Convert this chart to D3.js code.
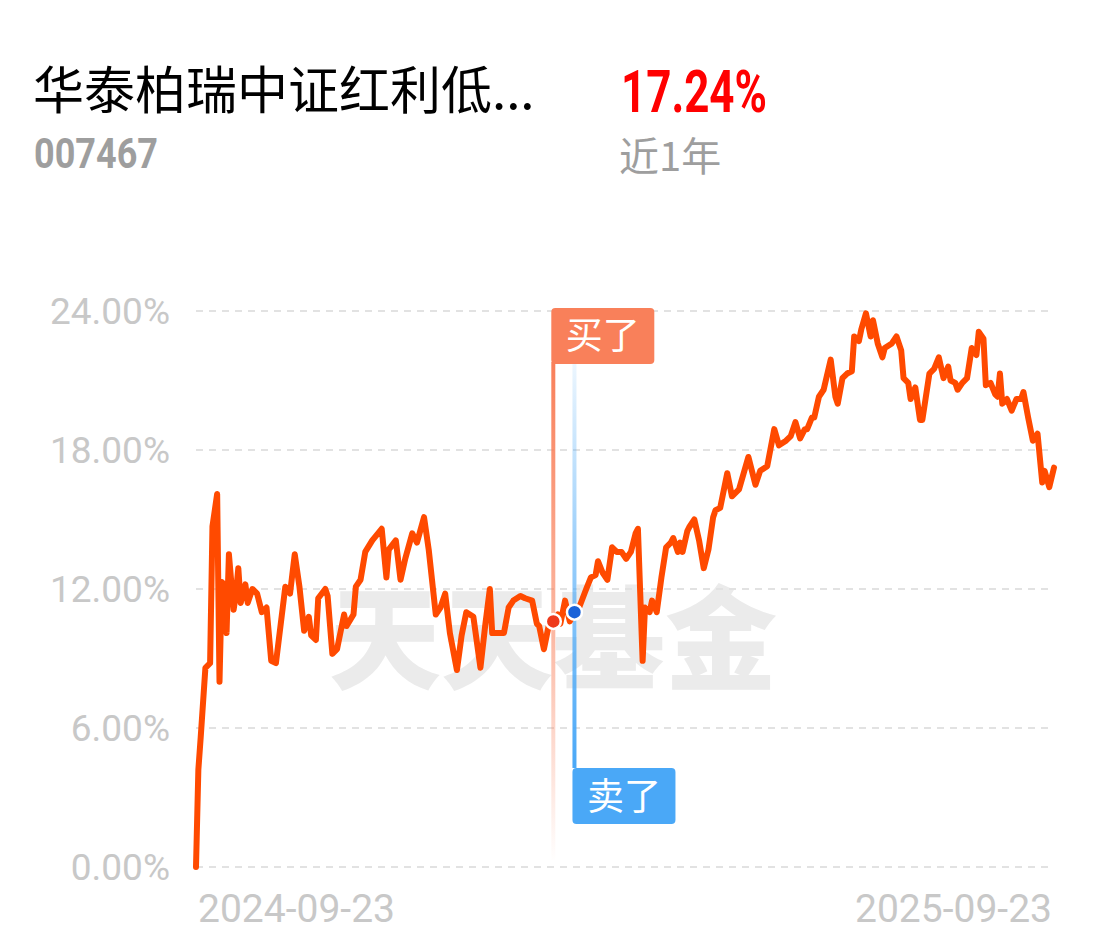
<!DOCTYPE html>
<html>
<head>
<meta charset="utf-8">
<script src="https://cdn.jsdelivr.net/npm/d3@7"></script>
<style>
  html, body { margin: 0; padding: 0; background: #ffffff; }
  svg { display: block; }
</style>
</head>
<body>
<svg id="chart" width="1102" height="951"></svg>
<script>
// ---------- data ----------
const fundName = "华泰柏瑞中证红利低...";
const fundCode = "007467";
const periodReturn = "17.24%";
const periodLabel = "近1年";
const startDate = "2024-09-23";
const xTickLabels = ["2024-09-23", "2025-09-23"];
const yTicks = [0, 6, 12, 18, 24];
const watermark = "天天基金";

// calendar days after 2024-09-23
const dayOffsets = [
  0,1,2,4,6,7,9,10,11,12,
  13,14,16,17,18,19,21,22,24,26,
  28,30,32,34,38,40,42,44,46,48,
  49,51,52,55,56,58,60,63,64,67,
  68,70,72,75,79,81,82,85,87,89,
  92,94,97,99,102,104,106,108,111,113,
  115,118,121,123,125,126,129,131,133,135,
  138,140,143,145,146,148,150,152,154,155,
  157,159,161,163,166,168,170,171,173,175,
  177,179,181,183,185,187,188,190,191,193,
  194,196,198,200,202,203,205,206,207,209,
  210,212,214,216,218,220,221,223,226,228,
  231,235,238,240,243,246,248,251,253,255,
  257,259,260,262,263,265,267,270,272,273,
  275,277,279,280,282,283,285,287,288,290,
  292,293,296,298,300,301,303,304,306,308,
  309,312,314,316,318,320,321,323,324,326,
  328,330,332,333,335,336,338,340,341,342,
  343,345,347,349,351,352,354,356,358,360,
  361,363,365
];
// cumulative return, %
const returns = [
  0,4.2,5.6,8.6,8.8,14.7,16.1,8.0,12.3,12.2,
  10.1,13.5,11.1,11.8,12.9,11.4,12.2,11.4,12.0,11.8,
  11.0,11.2,8.9,8.8,12.1,11.8,13.5,12.1,10.2,10.8,
  10.0,9.8,11.6,12.0,11.7,9.2,9.4,10.9,10.4,10.9,
  12.1,12.4,13.6,14.1,14.6,12.5,13.7,14.1,12.4,13.3,
  14.4,14.0,15.1,13.7,10.9,11.2,11.8,10.1,8.5,10.0,
  11.0,10.8,8.6,10.4,12.0,10.1,10.1,10.1,11.2,11.5,
  11.7,11.6,11.5,10.5,10.4,9.4,10.4,10.6,10.9,10.5,
  11.5,10.6,11.0,11.2,12.0,12.5,12.6,13.2,12.7,12.4,
  13.8,13.6,13.6,13.3,13.6,14.4,14.6,8.9,11.2,11.0,
  11.5,11.0,12.5,13.8,14.0,14.2,13.6,14.0,13.6,14.5,
  14.7,15.0,14.1,12.9,13.7,15.1,15.4,15.5,17.0,16.0,
  16.3,17.7,16.5,17.1,17.3,18.9,18.2,18.4,18.6,19.2,
  18.5,18.9,18.9,19.4,19.4,20.3,20.6,21.9,20.3,20.0,
  21.1,21.3,21.4,22.9,22.7,23.2,23.9,22.9,23.6,22.6,
  22.0,22.4,22.6,22.9,22.3,21.1,20.9,20.2,20.7,19.3,
  19.3,21.3,21.5,22.0,21.1,21.6,21.0,20.9,20.6,20.9,
  21.1,22.4,22.1,23.1,22.8,20.8,20.9,20.4,20.3,21.3,
  20.0,20.2,19.7,20.2,20.2,20.5,19.4,18.4,18.7,16.6,
  17.1,16.4,17.24
];
const buyDay = 152, buyValue = 10.6, buyLabel = "买了";
const sellDay = 161, sellValue = 11.0, sellLabel = "卖了";

// ---------- layout ----------
const svg = d3.select("#chart");
const W = 1102, H = 951;
svg.append("rect").attr("width", W).attr("height", H).attr("fill", "#ffffff");

const plotLeft = 196, plotRight = 1054, plotTop = 311, plotBottom = 867;
const parse = d3.timeParse("%Y-%m-%d");
const t0 = parse(startDate);
const dates = dayOffsets.map(d => d3.timeDay.offset(t0, d));
const data = dates.map((d, i) => ({ date: d, value: returns[i] }));

const x = d3.scaleTime()
  .domain([t0, d3.timeDay.offset(t0, 365)])
  .range([plotLeft, plotRight]);
const y = d3.scaleLinear().domain([0, 24]).range([plotBottom, plotTop]);

const cjk = "'Noto Sans CJK SC', 'Noto Sans', sans-serif";
const num = "Roboto, 'Noto Sans', sans-serif";

// ---------- header ----------
svg.append("text").attr("x", 33).attr("y", 109)
  .attr("font-family", cjk).attr("font-size", 51).attr("fill", "#000")
  .text(fundName);
svg.append("text").attr("x", 34).attr("y", 168)
  .attr("font-family", num).attr("font-weight", 700).attr("font-size", 42)
  .attr("fill", "#9e9e9e")
  .attr("textLength", 124).attr("lengthAdjust", "spacingAndGlyphs")
  .text(fundCode);
svg.append("text").attr("x", 621).attr("y", 112)
  .attr("font-family", num).attr("font-weight", 700).attr("font-size", 59)
  .attr("fill", "#ff0000")
  .attr("textLength", 146).attr("lengthAdjust", "spacingAndGlyphs")
  .text(periodReturn);
svg.append("text").attr("x", 619).attr("y", 171)
  .attr("font-family", cjk).attr("font-size", 40).attr("fill", "#9e9e9e")
  .text(periodLabel);

// ---------- watermark ----------
svg.append("text").attr("x", 553).attr("y", 681)
  .attr("text-anchor", "middle")
  .attr("font-family", cjk).attr("font-weight", 900).attr("font-size", 112)
  .attr("fill", "#ebebeb")
  .text(watermark);

// ---------- grid + y labels ----------
const grid = svg.append("g");
grid.selectAll("line").data(yTicks).join("line")
  .attr("x1", plotLeft).attr("x2", plotRight)
  .attr("y1", d => y(d)).attr("y2", d => y(d))
  .attr("stroke", "#e2e2e2").attr("stroke-width", 2)
  .attr("stroke-dasharray", "7,6");
grid.selectAll("text").data(yTicks).join("text")
  .attr("x", 170).attr("y", d => y(d) + 13)
  .attr("text-anchor", "end")
  .attr("font-family", num).attr("font-size", 37).attr("fill", "#c8c8c8")
  .text(d => d3.format(".2f")(d) + "%");

// ---------- x labels ----------
svg.append("text").attr("x", x(parse(xTickLabels[0])) + 2).attr("y", 922)
  .attr("font-family", num).attr("font-size", 39).attr("fill", "#c8c8c8")
  .attr("textLength", 197).attr("lengthAdjust", "spacingAndGlyphs")
  .text(xTickLabels[0]);
svg.append("text").attr("x", x(parse(xTickLabels[1])) - 2 - 197).attr("y", 922)
  .attr("font-family", num).attr("font-size", 39).attr("fill", "#c8c8c8")
  .attr("textLength", 197).attr("lengthAdjust", "spacingAndGlyphs")
  .text(xTickLabels[1]);

// ---------- buy / sell markers ----------
const defs = svg.append("defs");
const buyX = x(d3.timeDay.offset(t0, buyDay));
const sellX = x(d3.timeDay.offset(t0, sellDay));
const buyBoxTop = plotTop - 3, boxH = 56, boxW = 103;
const sellBoxTop = 768;

const gBuy = defs.append("linearGradient").attr("id", "gBuy")
  .attr("gradientUnits", "userSpaceOnUse")
  .attr("x1", 0).attr("x2", 0).attr("y1", buyBoxTop + boxH).attr("y2", plotBottom - 5);
gBuy.append("stop").attr("offset", 0).attr("stop-color", "#f9805a").attr("stop-opacity", 1);
gBuy.append("stop").attr("offset", 0.55).attr("stop-color", "#f9805a").attr("stop-opacity", 0.55);
gBuy.append("stop").attr("offset", 1).attr("stop-color", "#f9805a").attr("stop-opacity", 0);

const gSell = defs.append("linearGradient").attr("id", "gSell")
  .attr("gradientUnits", "userSpaceOnUse")
  .attr("x1", 0).attr("x2", 0).attr("y1", plotTop + 10).attr("y2", sellBoxTop);
gSell.append("stop").attr("offset", 0).attr("stop-color", "#4aa8f7").attr("stop-opacity", 0);
gSell.append("stop").attr("offset", 0.5).attr("stop-color", "#4aa8f7").attr("stop-opacity", 0.55);
gSell.append("stop").attr("offset", 1).attr("stop-color", "#4aa8f7").attr("stop-opacity", 1);

svg.append("rect").attr("x", sellX - 2).attr("y", plotTop + 10)
  .attr("width", 4).attr("height", sellBoxTop - plotTop - 10)
  .attr("fill", "url(#gSell)");
svg.append("rect").attr("x", buyX - 2).attr("y", buyBoxTop + boxH - 2)
  .attr("width", 4).attr("height", plotBottom - 5 - buyBoxTop - boxH)
  .attr("fill", "url(#gBuy)");

// buy box
svg.append("rect").attr("x", buyX - 2).attr("y", buyBoxTop)
  .attr("width", boxW).attr("height", boxH).attr("rx", 4)
  .attr("fill", "#f9805a");
svg.append("text").attr("x", buyX - 2 + boxW / 2).attr("y", buyBoxTop + 41)
  .attr("text-anchor", "middle").attr("font-family", cjk).attr("font-size", 37)
  .attr("fill", "#ffffff").text(buyLabel);
// sell box
svg.append("rect").attr("x", sellX - 2).attr("y", sellBoxTop)
  .attr("width", boxW).attr("height", boxH).attr("rx", 4)
  .attr("fill", "#4aa8f7");
svg.append("text").attr("x", sellX - 2 + boxW / 2).attr("y", sellBoxTop + 42)
  .attr("text-anchor", "middle").attr("font-family", cjk).attr("font-size", 37)
  .attr("fill", "#ffffff").text(sellLabel);

// ---------- line ----------
const line = d3.line().x(d => x(d.date)).y(d => y(d.value)).curve(d3.curveLinear);
svg.append("path").datum(data)
  .attr("d", line)
  .attr("fill", "none")
  .attr("stroke", "#ff4a00")
  .attr("stroke-width", 6)
  .attr("stroke-linejoin", "round")
  .attr("stroke-linecap", "round");

// ---------- dots ----------
svg.append("circle").attr("cx", buyX).attr("cy", y(buyValue)).attr("r", 7.5)
  .attr("fill", "#ee3a1c").attr("stroke", "#ffffff").attr("stroke-width", 2.5);
svg.append("circle").attr("cx", sellX).attr("cy", y(sellValue)).attr("r", 7.5)
  .attr("fill", "#1a62d8").attr("stroke", "#ffffff").attr("stroke-width", 2.5);
</script>
</body>
</html>
